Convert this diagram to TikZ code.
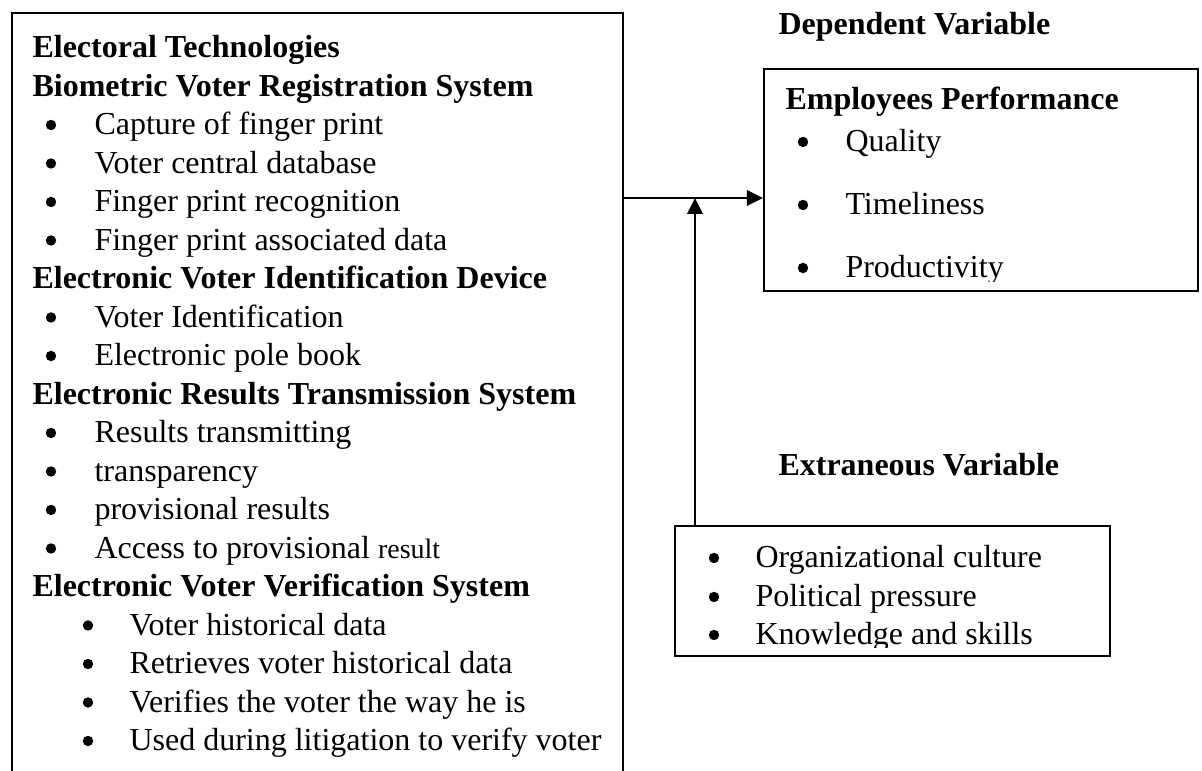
\documentclass[tikz,border=0pt]{standalone}
\usepackage{fontspec}
\setmainfont{Liberation Serif}
\usepackage{tikz}
\usetikzlibrary{arrows.meta, fit, positioning}
\newcommand\headtext[4]{\node[txt, font=\fontsize{12}{14}\selectfont\bfseries] (#1) at (#2,#3) {#4};}
\newcommand\itemtext[5]{\node[dot] (#1dot) at ({#2},{#4-10}) {};\node[txt] (#1) at (#3,#4) {#5};}
\tikzset{
	txt/.style={anchor=base west, inner sep=0pt, font=\fontsize{12}{14}\selectfont},
	dot/.style={circle, fill, inner sep=0pt, minimum size=3.9pt},
	boxline/.style={line width=0.8pt},
	frame/.style={draw, line width=0.8pt, inner sep=0pt},
	conn/.style={line width=0.8pt, -{Triangle[length=6pt, width=5.8pt]}}
}

\begin{document}
\begin{tikzpicture}[x=0.375pt, y=-0.375pt]
	\useasboundingbox (0,0) rectangle (1202,771);
	\draw[boxline] (12,771) -- (12,13) -- (623,13) -- (623,771);
	\coordinate (techE) at (623,198);
	\headtext{tech}{32}{58}{Electoral Technologies}
	\headtext{bvrs}{32}{96.5}{Biometric Voter Registration System}
	\itemtext{capture}{51}{94}{135}{Capture of finger print}
	\itemtext{central}{51}{94}{173.5}{Voter central database}
	\itemtext{recog}{51}{94}{212}{Finger print recognition}
	\itemtext{assoc}{51}{94}{250.5}{Finger print associated data}
	\headtext{evid}{32}{289}{Electronic Voter Identification Device}
	\itemtext{voterid}{51}{94}{327.5}{Voter Identification}
	\itemtext{polebook}{51}{94}{366}{Electronic pole book}
	\headtext{erts}{32}{404.5}{Electronic Results Transmission System}
	\itemtext{transmit}{51}{94}{443}{Results transmitting}
	\itemtext{transp}{51}{94}{481.5}{transparency}
	\itemtext{provis}{51}{94}{520}{provisional results}
	\itemtext{access}{51}{94}{558.5}{Access to provisional {\fontsize{10.5}{12}\selectfont result}}
	\headtext{evvs}{32}{597}{Electronic Voter Verification System}
	\itemtext{history}{88}{129}{635.5}{Voter historical data}
	\itemtext{retrieve}{88}{129}{674}{Retrieves voter historical data}
	\itemtext{verify}{88}{129}{712.5}{Verifies the voter the way he is}
	\itemtext{litig}{88}{129}{751}{Used during litigation to verify voter}

	\headtext{dep}{778}{35}{Dependent Variable}
	\coordinate (perfNW) at (764,69);
	\coordinate (perfSE) at (1198,291);
	\node[frame, fit=(perfNW)(perfSE)] (perf) {};
	\begin{scope}
		\clip (764,69) rectangle (1198,282);
		\headtext{emp}{785}{110}{Employees Performance}
		\itemtext{quality}{803}{845}{152}{Quality}
		\itemtext{timely}{803}{845}{215}{Timeliness}
		\itemtext{product}{803}{845}{278}{Productivity}
	\end{scope}

	\headtext{ext}{778}{476}{Extraneous Variable}
	\coordinate (extNW) at (675,526);
	\coordinate (extSE) at (1110,656);
	\node[frame, fit=(extNW)(extSE)] (extbox) {};
	\begin{scope}
		\clip (675,526) rectangle (1110,648);
		\itemtext{culture}{714}{755}{568}{Organizational culture}
		\itemtext{pressure}{714}{755}{607}{Political pressure}
		\itemtext{skills}{714}{755}{645}{Knowledge and skills}
	\end{scope}

	\coordinate (join) at (695,198);
	\draw[conn] (techE) -- (perf.west |- techE);
	\draw[conn] (extbox.north -| join) -- (join);
\end{tikzpicture}
\end{document}
